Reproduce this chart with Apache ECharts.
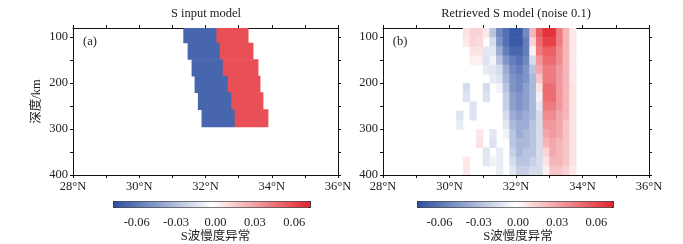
<!DOCTYPE html>
<html>
<head>
<meta charset="utf-8">
<script src="https://cdn.jsdelivr.net/npm/echarts@6/dist/echarts.min.js"></script>
<style>
html, body { margin: 0; padding: 0; background: #fff; }
#chart { width: 683px; height: 244px; }
</style>
</head>
<body>
<div id="chart"></div>
<script>
// S波慢度异常 剖面 (a) 输入模型 (b) 反演结果
var latTicks = [28, 30, 32, 34, 36];
var depthTicks = [100, 200, 300, 400];
var depthMinorTicks = [100, 150, 200, 250, 300, 350, 400];
var scaleTicks = [-0.06, -0.03, 0, 0.03, 0.06];

// (a) input model: stepped layers, blue block west of mid edge, red block east of it
var inputDepthEdges = [80, 112, 148, 184, 220, 257, 295];
var inputWestEdge = [31.33, 31.46, 31.58, 31.67, 31.77, 31.88];
var inputMidEdge = [32.33, 32.43, 32.52, 32.67, 32.78, 32.88];
var inputEastEdge = [33.28, 33.43, 33.58, 33.64, 33.73, 33.88];
var inputSlowness = [-0.065, 0.06];

// (b) retrieved model, cells of 0.2 deg x 20 km, values in 0.001
var retrievedLats = [30.0, 30.2, 30.4, 30.6, 30.8, 31.0, 31.2, 31.4, 31.6, 31.8,
                     32.0, 32.2, 32.4, 32.6, 32.8, 33.0, 33.2, 33.4, 33.6, 33.8];
var retrievedDepths = [80, 100, 120, 140, 160, 180, 200, 220, 240, 260, 280, 300, 320, 340, 360, 380];
var retrievedRows = [
  [0, 0, 10, 15, 15, 8, -25, -50, -60, -70, -70, -50, 25, 55, 70, 70, 45, 25, 8, 0],
  [0, 0, 8, 15, 12, 0, -15, -45, -60, -70, -70, -55, 15, 50, 65, 65, 45, 25, 8, 0],
  [0, 0, 0, 10, 10, -10, -10, -35, -55, -65, -65, -55, 5, 45, 55, 55, 40, 25, 8, 0],
  [0, 0, 0, 5, 5, -12, -5, -25, -45, -55, -60, -50, -15, 35, 50, 50, 40, 25, 8, 0],
  [0, 0, 0, 0, 0, -8, -10, -15, -35, -50, -55, -45, -25, 30, 45, 45, 35, 25, 8, 0],
  [0, 0, 0, 0, 0, 0, -8, -12, -30, -45, -50, -45, -30, 20, 45, 45, 35, 25, 8, 0],
  [0, 0, -15, 0, 0, -15, 0, -5, -25, -45, -50, -40, -30, 10, 50, 50, 35, 25, 10, 0],
  [0, 0, -12, 0, 0, -12, 0, 0, -20, -40, -45, -40, -30, -5, 50, 50, 35, 25, 10, 0],
  [0, 0, 0, -12, 0, 0, 0, 0, -20, -40, -45, -40, -30, -10, 45, 45, 35, 25, 10, 0],
  [0, -12, 0, -12, 0, 0, 0, 0, -15, -35, -40, -35, -30, -15, 40, 40, 30, 25, 10, 0],
  [0, -8, 0, 0, 0, 0, 0, 0, -10, -30, -35, -35, -25, -15, 35, 35, 30, 20, 10, 0],
  [0, 0, 0, 0, 8, 0, -10, 0, -5, -25, -35, -30, -25, -15, 30, 35, 30, 20, 10, 0],
  [0, 0, 0, 0, 10, 0, -12, 0, 0, -25, -30, -30, -25, -15, 25, 30, 25, 20, 10, 0],
  [0, 0, 0, 0, 0, -10, 0, -8, 0, -20, -30, -25, -25, -15, 15, 30, 25, 20, 10, 0],
  [0, 0, 8, 0, 0, -10, -5, -8, 0, -15, -25, -25, -20, -15, 10, 25, 25, 20, 10, 0],
  [0, 0, 8, 0, 0, 0, 0, -8, 0, -10, -20, -20, -15, -15, 5, 20, 20, 15, 8, 0]
];

var FONT = "'Liberation Serif', 'Noto Sans CJK SC', serif";
var scaleColors = ['#2b4ea2', '#ffffff', '#e2232c'];

var inputData = [];
for (var i = 0; i < inputWestEdge.length; i++) {
    inputData.push([inputWestEdge[i], inputMidEdge[i], inputDepthEdges[i], inputDepthEdges[i + 1], inputSlowness[0]]);
    inputData.push([inputMidEdge[i], inputEastEdge[i], inputDepthEdges[i], inputDepthEdges[i + 1], inputSlowness[1]]);
}

var retrievedData = [];
retrievedRows.forEach(function (row, r) {
    row.forEach(function (v, c) {
        if (v !== 0) {
            retrievedData.push([retrievedLats[c], retrievedLats[c] + 0.2,
                retrievedDepths[r], retrievedDepths[r] + 20, v / 1000]);
        }
    });
});

function renderCell(params, api) {
    var a = api.coord([api.value(0), api.value(2)]);
    var b = api.coord([api.value(1), api.value(3)]);
    return {
        type: 'rect',
        shape: { x: a[0], y: a[1], width: b[0] - a[0] + 0.6, height: b[1] - a[1] + 0.6 },
        style: { fill: api.visual('color') }
    };
}

var lineStyle = { color: '#111', width: 1 };

function latAxis(grid, pos) {
    return {
        type: 'value', gridIndex: grid, position: pos,
        min: 28, max: 36, interval: 1,
        axisLine: { onZero: false, lineStyle: lineStyle },
        axisTick: { inside: false, length: 3, lineStyle: lineStyle },
        axisLabel: {
            show: pos === 'bottom', customValues: latTicks, margin: 5,
            color: '#222', fontFamily: FONT, fontSize: 12.5,
            formatter: function (v) { return v + '°N'; }
        },
        splitLine: { show: false }
    };
}

function depthAxis(grid, pos, name) {
    return {
        type: 'value', gridIndex: grid, position: pos, inverse: true,
        min: 80, max: 400,
        name: name, nameLocation: 'middle', nameGap: 30,
        nameTextStyle: { color: '#222', fontFamily: FONT, fontSize: 12.5 },
        axisLine: { onZero: false, lineStyle: lineStyle },
        axisTick: { inside: false, length: 3, customValues: depthMinorTicks, lineStyle: lineStyle },
        axisLabel: {
            show: pos === 'left', customValues: depthTicks, margin: 5,
            color: '#222', fontFamily: FONT, fontSize: 12.5
        },
        splitLine: { show: false }
    };
}

function scaleAxis(grid) {
    return {
        type: 'value', gridIndex: grid, min: -0.075, max: 0.075,
        name: 'S波慢度异常', nameLocation: 'middle', nameGap: 25,
        nameTextStyle: { color: '#222', fontFamily: FONT, fontSize: 12.5 },
        axisLine: { show: false }, axisTick: { show: false }, splitLine: { show: false },
        axisLabel: {
            customValues: scaleTicks, margin: 11,
            color: '#222', fontFamily: FONT, fontSize: 12.5,
            formatter: function (v) { return v.toFixed(2); }
        }
    };
}

function scaleMap(series, left, len) {
    return {
        type: 'continuous', seriesIndex: series, dimension: 4,
        min: -0.075, max: 0.075, orient: 'horizontal',
        left: left, top: 201, itemWidth: 6, itemHeight: len,
        calculable: false, hoverLink: false, padding: 0,
        borderColor: '#222', borderWidth: 1,
        inRange: { color: scaleColors }
    };
}

function label(text, x, y) {
    return {
        type: 'text', x: x, y: y, silent: true,
        style: { text: text, align: 'center', verticalAlign: 'middle', fill: '#222', font: '12.5px ' + FONT }
    };
}

var option = {
    backgroundColor: '#fff',
    animation: false,
    grid: [
        { left: 73, top: 28, width: 265, height: 147 },
        { left: 383, top: 28, width: 266, height: 147 },
        { left: 117, top: 201, width: 197, height: 6 },
        { left: 420, top: 201, width: 196, height: 6 }
    ],
    xAxis: [latAxis(0, 'bottom'), latAxis(0, 'top'), latAxis(1, 'bottom'), latAxis(1, 'top'),
            scaleAxis(2), scaleAxis(3)],
    yAxis: [depthAxis(0, 'left', '深度/km'), depthAxis(0, 'right'), depthAxis(1, 'left'), depthAxis(1, 'right'),
            { gridIndex: 2, show: false }, { gridIndex: 3, show: false }],
    visualMap: [scaleMap(0, 113, 197), scaleMap(1, 417, 196)],
    graphic: [
        label('S input model', 206, 14),
        label('Retrieved S model (noise 0.1)', 516, 14),
        label('(a)', 90, 42),
        label('(b)', 400, 42)
    ],
    series: [
        {
            type: 'custom', name: 'S input model', xAxisIndex: 0, yAxisIndex: 0,
            renderItem: renderCell, encode: { x: [0, 1], y: [2, 3] }, clip: true, silent: true,
            data: inputData
        },
        {
            type: 'custom', name: 'Retrieved S model', xAxisIndex: 2, yAxisIndex: 2,
            renderItem: renderCell, encode: { x: [0, 1], y: [2, 3] }, clip: true, silent: true,
            data: retrievedData
        }
    ]
};

var myChart = echarts.init(document.getElementById('chart'));
myChart.setOption(option);
</script>
</body>
</html>
